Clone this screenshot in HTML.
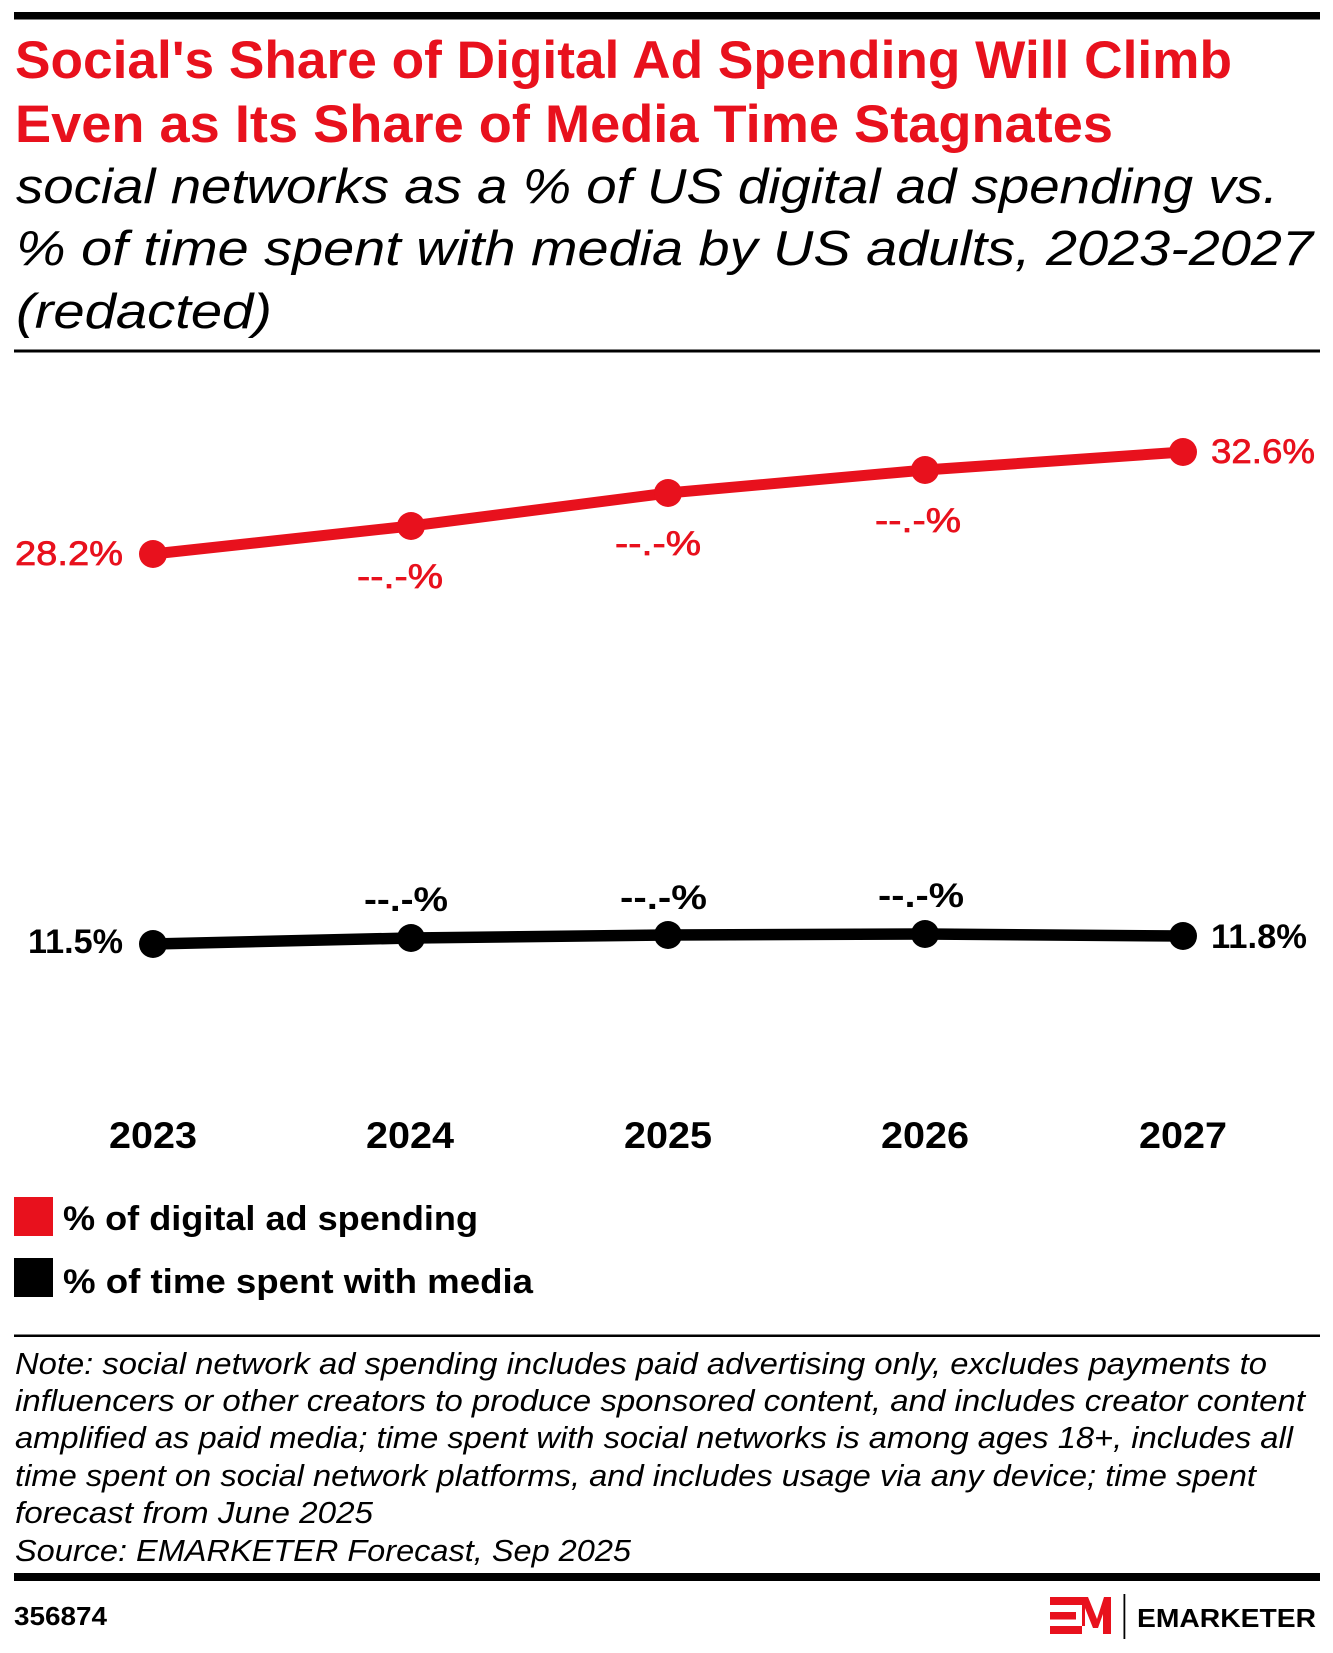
<!DOCTYPE html>
<html>
<head>
<meta charset="utf-8">
<style>
  html, body { margin: 0; padding: 0; background: #ffffff; }
  body { width: 1333px; height: 1653px; overflow: hidden; }
  svg { display: block; }
  text { font-family: "Liberation Sans", Arial, sans-serif; }
</style>
</head>
<body>
<svg width="1333" height="1653" viewBox="0 0 1333 1653" xmlns="http://www.w3.org/2000/svg">
  <rect x="0" y="0" width="1333" height="1653" fill="#ffffff"/>

  <!-- top bar -->
  <rect x="14" y="12" width="1306" height="7.5" fill="#000"/>

  <!-- title -->
  <text x="15" y="78" font-size="53" font-weight="bold" fill="#e8111d" textLength="1217" lengthAdjust="spacingAndGlyphs">Social's Share of Digital Ad Spending Will Climb</text>
  <text x="15" y="142" font-size="53" font-weight="bold" fill="#e8111d" textLength="1098" lengthAdjust="spacingAndGlyphs">Even as Its Share of Media Time Stagnates</text>

  <!-- subtitle -->
  <text x="16" y="203" font-size="49" font-style="italic" fill="#000" textLength="1262" lengthAdjust="spacingAndGlyphs">social networks as a % of US digital ad spending vs.</text>
  <text x="16" y="265" font-size="49" font-style="italic" fill="#000" textLength="1297" lengthAdjust="spacingAndGlyphs">% of time spent with media by US adults, 2023-2027</text>
  <text x="16" y="328" font-size="49" font-style="italic" fill="#000" textLength="256" lengthAdjust="spacingAndGlyphs">(redacted)</text>

  <!-- rule -->
  <rect x="14" y="349.5" width="1306" height="3" fill="#000"/>

  <!-- red series -->
  <polyline points="153,554 411,526 668,493 925,470 1183,452" fill="none" stroke="#e8111d" stroke-width="11" stroke-linejoin="round"/>
  <circle cx="153" cy="554" r="14" fill="#e8111d"/>
  <circle cx="411" cy="526" r="14" fill="#e8111d"/>
  <circle cx="668" cy="493" r="14" fill="#e8111d"/>
  <circle cx="925" cy="470" r="14" fill="#e8111d"/>
  <circle cx="1183" cy="452" r="14" fill="#e8111d"/>

  <!-- black series -->
  <polyline points="153,944 411,938 668,935 925,934 1183,936" fill="none" stroke="#000" stroke-width="11.5" stroke-linejoin="round"/>
  <circle cx="153" cy="944" r="14" fill="#000"/>
  <circle cx="411" cy="938" r="14" fill="#000"/>
  <circle cx="668" cy="935" r="14" fill="#000"/>
  <circle cx="925" cy="934" r="14" fill="#000"/>
  <circle cx="1183" cy="936" r="14" fill="#000"/>

  <!-- red labels -->
  <g fill="#e8111d" stroke="#e8111d" stroke-width="0.7">
  <text x="15" y="565" font-size="34" textLength="108" lengthAdjust="spacingAndGlyphs">28.2%</text>
  <text x="357" y="588" font-size="34" textLength="86" lengthAdjust="spacingAndGlyphs">--.-%</text>
  <text x="615" y="555" font-size="34" textLength="86" lengthAdjust="spacingAndGlyphs">--.-%</text>
  <text x="875" y="532" font-size="34" textLength="86" lengthAdjust="spacingAndGlyphs">--.-%</text>
  <text x="1211" y="463" font-size="34" textLength="104" lengthAdjust="spacingAndGlyphs">32.6%</text>
  </g>

  <!-- black labels -->
  <text x="28" y="953" font-size="34" font-weight="bold" fill="#000" textLength="95" lengthAdjust="spacingAndGlyphs">11.5%</text>
  <text x="364" y="911" font-size="34" font-weight="bold" fill="#000" textLength="84" lengthAdjust="spacingAndGlyphs">--.-%</text>
  <text x="620" y="909" font-size="34" font-weight="bold" fill="#000" textLength="87" lengthAdjust="spacingAndGlyphs">--.-%</text>
  <text x="878" y="907" font-size="34" font-weight="bold" fill="#000" textLength="86" lengthAdjust="spacingAndGlyphs">--.-%</text>
  <text x="1211" y="948" font-size="34" font-weight="bold" fill="#000" textLength="96" lengthAdjust="spacingAndGlyphs">11.8%</text>

  <!-- x axis labels -->
  <text x="109" y="1148" font-size="37" font-weight="bold" fill="#000" textLength="88" lengthAdjust="spacingAndGlyphs">2023</text>
  <text x="366" y="1148" font-size="37" font-weight="bold" fill="#000" textLength="88" lengthAdjust="spacingAndGlyphs">2024</text>
  <text x="624" y="1148" font-size="37" font-weight="bold" fill="#000" textLength="88" lengthAdjust="spacingAndGlyphs">2025</text>
  <text x="881" y="1148" font-size="37" font-weight="bold" fill="#000" textLength="88" lengthAdjust="spacingAndGlyphs">2026</text>
  <text x="1139" y="1148" font-size="37" font-weight="bold" fill="#000" textLength="88" lengthAdjust="spacingAndGlyphs">2027</text>

  <!-- legend -->
  <rect x="14" y="1197" width="39" height="39" fill="#e8111d"/>
  <text x="63" y="1230" font-size="34" font-weight="bold" fill="#000" textLength="415" lengthAdjust="spacingAndGlyphs">% of digital ad spending</text>
  <rect x="14" y="1258" width="39" height="39" fill="#000"/>
  <text x="63" y="1293" font-size="34" font-weight="bold" fill="#000" textLength="470" lengthAdjust="spacingAndGlyphs">% of time spent with media</text>

  <!-- note rule -->
  <rect x="14" y="1334.5" width="1306" height="2.5" fill="#000"/>

  <!-- notes -->
  <text x="15" y="1374" font-size="31" font-style="italic" fill="#000" textLength="1252" lengthAdjust="spacingAndGlyphs">Note: social network ad spending includes paid advertising only, excludes payments to</text>
  <text x="15" y="1411" font-size="31" font-style="italic" fill="#000" textLength="1290" lengthAdjust="spacingAndGlyphs">influencers or other creators to produce sponsored content, and includes creator content</text>
  <text x="15" y="1448" font-size="31" font-style="italic" fill="#000" textLength="1278" lengthAdjust="spacingAndGlyphs">amplified as paid media; time spent with social networks is among ages 18+, includes all</text>
  <text x="15" y="1486" font-size="31" font-style="italic" fill="#000" textLength="1241" lengthAdjust="spacingAndGlyphs">time spent on social network platforms, and includes usage via any device; time spent</text>
  <text x="15" y="1523" font-size="31" font-style="italic" fill="#000" textLength="358" lengthAdjust="spacingAndGlyphs">forecast from June 2025</text>
  <text x="15" y="1561" font-size="31" font-style="italic" fill="#000" textLength="616" lengthAdjust="spacingAndGlyphs">Source: EMARKETER Forecast, Sep 2025</text>

  <!-- bottom thick bar -->
  <rect x="14" y="1573" width="1306" height="8" fill="#000"/>

  <!-- footer id -->
  <text x="14" y="1625" font-size="26" font-weight="bold" fill="#000" textLength="93" lengthAdjust="spacingAndGlyphs">356874</text>

  <!-- logo -->
  <rect x="1050" y="1597" width="32" height="8" fill="#e8111d"/>
  <rect x="1050" y="1612" width="26" height="7.5" fill="#e8111d"/>
  <rect x="1050" y="1626" width="32" height="8" fill="#e8111d"/>
  <polygon points="1077,1597 1088,1597 1097,1619 1104,1597 1111,1597 1111,1634 1103,1634 1103,1614 1098,1628 1093,1628 1085,1608 1085,1626 1082,1626 1082,1605 1077,1605" fill="#e8111d"/>
  <rect x="1123.5" y="1594" width="1.8" height="45" fill="#000"/>
  <text x="1137" y="1627" font-size="26" font-weight="bold" fill="#000" textLength="179" lengthAdjust="spacingAndGlyphs">EMARKETER</text>
</svg>
</body>
</html>
